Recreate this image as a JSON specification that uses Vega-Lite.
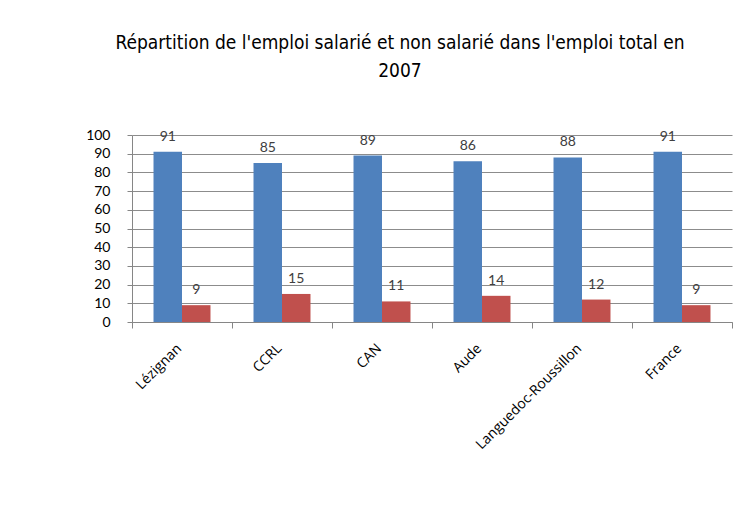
{
  "$schema": "https://vega.github.io/schema/vega-lite/v6.json",
  "width": 600,
  "height": 187,
  "autosize": {"type": "none"},
  "padding": {"left": 132, "top": 135, "right": 12, "bottom": 191},
  "background": "white",
  "title": {
    "text": ["Répartition de l'emploi salarié et non salarié dans l'emploi total en", "2007"],
    "font": "DejaVu Sans Condensed, Liberation Sans",
    "fontSize": 19,
    "fontWeight": "normal",
    "color": "#000000",
    "anchor": "middle",
    "dx": -32,
    "offset": 47,
    "lineHeight": 28
  },
  "data": {
    "values": [
      {"zone": "Lézignan", "serie": "Salarié", "valeur": 91},
      {"zone": "Lézignan", "serie": "Non salarié", "valeur": 9},
      {"zone": "CCRL", "serie": "Salarié", "valeur": 85},
      {"zone": "CCRL", "serie": "Non salarié", "valeur": 15},
      {"zone": "CAN", "serie": "Salarié", "valeur": 89},
      {"zone": "CAN", "serie": "Non salarié", "valeur": 11},
      {"zone": "Aude", "serie": "Salarié", "valeur": 86},
      {"zone": "Aude", "serie": "Non salarié", "valeur": 14},
      {"zone": "Languedoc-Roussillon", "serie": "Salarié", "valeur": 88},
      {"zone": "Languedoc-Roussillon", "serie": "Non salarié", "valeur": 12},
      {"zone": "France", "serie": "Salarié", "valeur": 91},
      {"zone": "France", "serie": "Non salarié", "valeur": 9}
    ]
  },
  "encoding": {
    "x": {
      "field": "zone",
      "type": "nominal",
      "sort": null,
      "scale": {"paddingInner": 0, "paddingOuter": 0},
      "axis": {
        "title": null,
        "labelAngle": -45,
        "labelAlign": "right",
        "labelBaseline": "middle",
        "labelFont": "Open Sans",
        "labelFontSize": 14,
        "labelColor": "#000000",
        "labelPadding": 18,
        "labelOffset": -3,
        "tickBand": "extent",
        "tickSize": 6,
        "tickColor": "#868686",
        "domainColor": "#868686",
        "grid": false
      }
    },
    "xOffset": {
      "field": "serie",
      "type": "nominal",
      "sort": ["Salarié", "Non salarié"],
      "scale": {"paddingInner": 0, "paddingOuter": 0.755}
    },
    "y": {
      "field": "valeur",
      "type": "quantitative",
      "scale": {"domain": [0, 100], "nice": false},
      "axis": {
        "title": null,
        "values": [0, 10, 20, 30, 40, 50, 60, 70, 80, 90, 100],
        "labelFont": "Lato",
        "labelFontSize": 14,
        "labelColor": "#000000",
        "labelPadding": 17,
        "tickSize": 5,
        "tickColor": "#868686",
        "domainColor": "#868686",
        "gridColor": "#8c8c8c",
        "gridWidth": 1
      }
    }
  },
  "layer": [
    {
      "mark": {"type": "bar"},
      "encoding": {
        "color": {
          "field": "serie",
          "type": "nominal",
          "sort": ["Salarié", "Non salarié"],
          "scale": {"range": ["#4F81BD", "#C0504D"]},
          "legend": null
        }
      }
    },
    {
      "mark": {"type": "text", "font": "Lato", "fontSize": 14, "color": "#404040", "baseline": "alphabetic", "dy": -11},
      "encoding": {"text": {"field": "valeur", "type": "quantitative"}}
    }
  ],
  "config": {"view": {"stroke": null}}
}
